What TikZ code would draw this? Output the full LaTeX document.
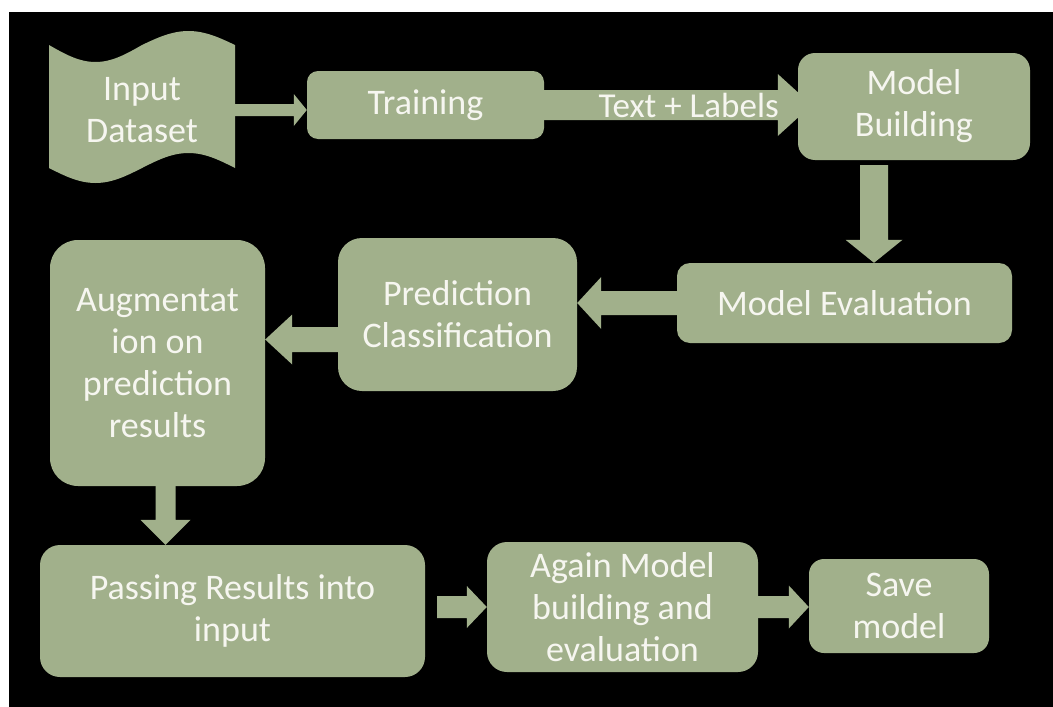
\documentclass[tikz,border=0pt]{standalone}
\usepackage{fontspec}
\setmainfont{Carlito}
\usetikzlibrary{calc}
\definecolor{fillc}{RGB}{161,176,139}
\definecolor{txtc}{RGB}{246,246,240}
\tikzset{
  arrowfill/.style={fill=fillc},
  box/.style={fill=fillc, inner sep=0pt, text=txtc, align=center,
    font=\fontsize{36}{42}\selectfont},
  lbltext/.style={inner sep=0pt, text=txtc, font=\fontsize{35}{42}\selectfont}
}
% right-pointing block arrow: start, tip, shaft half, head half, head length
\newcommand{\blockR}[5]{\fill[arrowfill] let \p1=(#1), \p2=(#2) in
  (\x1,{\y1+#3pt}) -- ({\x2-#5pt},{\y1+#3pt}) -- ({\x2-#5pt},{\y1+#4pt}) -- (\x2,\y1)
  -- ({\x2-#5pt},{\y1-#4pt}) -- ({\x2-#5pt},{\y1-#3pt}) -- (\x1,{\y1-#3pt}) -- cycle;}
\newcommand{\blockL}[5]{\fill[arrowfill] let \p1=(#1), \p2=(#2) in
  (\x1,{\y1+#3pt}) -- ({\x2+#5pt},{\y1+#3pt}) -- ({\x2+#5pt},{\y1+#4pt}) -- (\x2,\y1)
  -- ({\x2+#5pt},{\y1-#4pt}) -- ({\x2+#5pt},{\y1-#3pt}) -- (\x1,{\y1-#3pt}) -- cycle;}
\newcommand{\blockD}[5]{\fill[arrowfill] let \p1=(#1), \p2=(#2) in
  ({\x1-#3pt},\y1) -- ({\x1-#3pt},{\y2+#5pt}) -- ({\x1-#4pt},{\y2+#5pt}) -- (\x1,\y2)
  -- ({\x1+#4pt},{\y2+#5pt}) -- ({\x1+#3pt},{\y2+#5pt}) -- ({\x1+#3pt},\y1) -- cycle;}
\begin{document}
\begin{tikzpicture}[x=1pt,y=-1pt]
\useasboundingbox (0,0) rectangle (1053,707);
\fill[white] (0,0) rectangle (1053,707);
\fill[black] (9,12) rectangle (1053,707);

% punched tape
\fill[fillc] (49,45) sin (95.5,62) cos (142,45) sin (188.5,31) cos (235,45)
  -- (235,168) sin (188.5,153) cos (142,168) sin (95.5,183) cos (49,168) -- cycle;
\node[box, fill=none, minimum width=186pt, minimum height=120pt] (input) at (142,110) {Input\\Dataset};

\node[box, rounded corners=11pt, minimum width=237pt, minimum height=68pt] (training) at (425.5,105) {Training};
\node[box, rounded corners=17pt, minimum width=232pt, minimum height=107pt] (mb) at (914,106.5) {Model\\Building};
\node[box, rounded corners=13pt, minimum width=335pt, minimum height=80pt] (me) at (844.5,303) {Model Evaluation};
\node[box, rounded corners=24pt, minimum width=239pt, minimum height=153pt] (pc) at (457.5,314.5) {Prediction\\Classification};
\node[box, rounded corners=28pt, minimum width=215pt, minimum height=246pt] (aug) at (157.5,363) {Augmentat\\ion on\\prediction\\results};
\node[box, rounded corners=20pt, minimum width=385pt, minimum height=132pt] (pass) at (232.5,611) {Passing Results into\\input};
\node[box, rounded corners=20pt, minimum width=271pt, minimum height=130pt] (again) at (622.5,607) {Again Model\\building and\\evaluation};
\node[box, rounded corners=15pt, minimum width=180pt, minimum height=94pt] (save) at (899,606) {Save\\model};

\coordinate (mbtip) at ([xshift=14pt]mb.west);
\coordinate (mbout) at ([xshift=-40pt,yshift=-5pt]mb.south);
\coordinate (pcout) at ([yshift=-25pt]pc.west);
\coordinate (augout) at ([xshift=8pt]aug.south);
\coordinate (passout) at ([xshift=12pt,yshift=4pt]pass.east);

\blockR{input.east}{training.west}{6}{16}{13}
\blockR{training.east}{mbtip}{15}{31}{34}
\blockD{mbout}{me.north}{14}{28.5}{23}
\blockL{me.west}{pc.east}{12}{26}{24}
\blockL{pcout}{aug.east}{12.5}{25}{27}
\blockD{augout}{pass.north}{10}{25}{25}
\blockR{passout}{again.west}{11}{21}{20}
\blockR{again.east}{save.west}{11}{21.5}{20}

\path (training.east) -- (mbtip) node[lbltext, pos=0.54] (lbl) {Text + Labels};
\end{tikzpicture}
\end{document}
